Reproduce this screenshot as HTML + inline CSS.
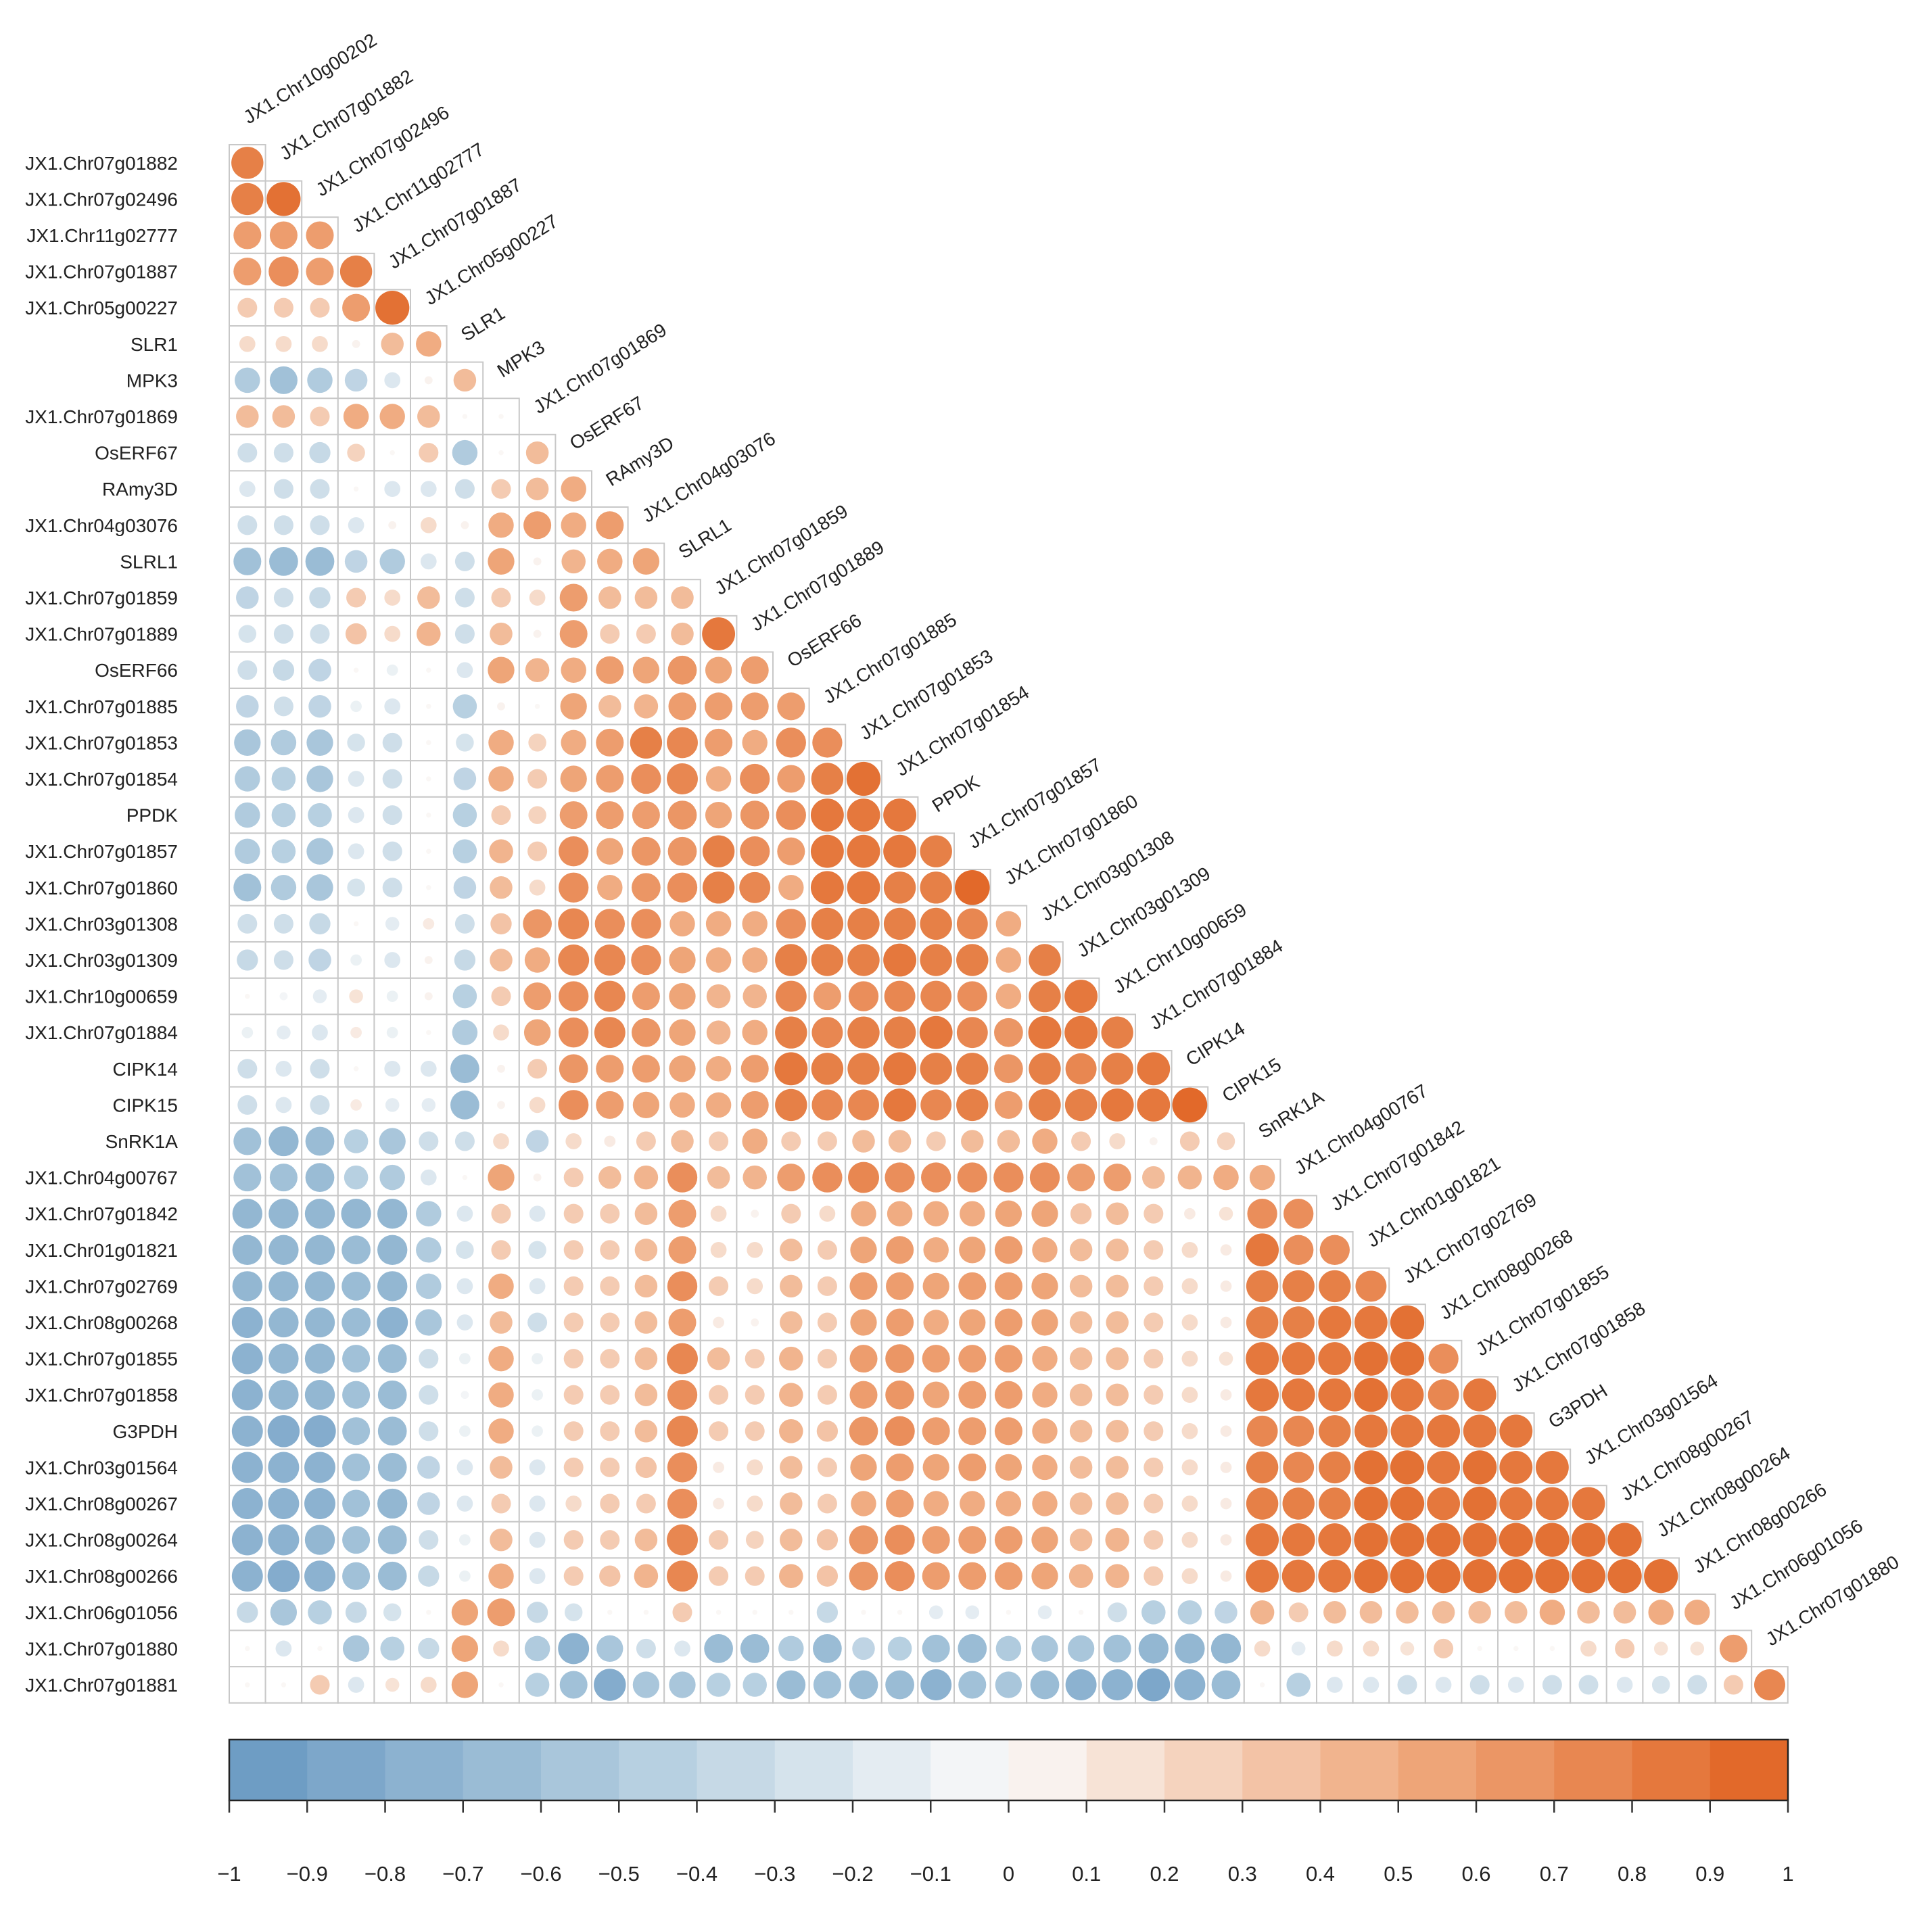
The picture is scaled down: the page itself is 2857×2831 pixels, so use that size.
<!DOCTYPE html>
<html><head><meta charset="utf-8">
<style>
html,body{margin:0;padding:0;background:#fff;}
svg{display:block;font-family:"Liberation Sans",Arial,sans-serif;}
</style></head>
<body>
<svg id="chart" width="2857" height="2831" viewBox="0 0 2857 2831" xmlns="http://www.w3.org/2000/svg">
<g id="grid"></g>
<g id="rowlabels"></g>
<g id="collabels"></g>
<g id="legend"></g>
</svg>
<script>
const variables = ["JX1.Chr10g00202","JX1.Chr07g01882","JX1.Chr07g02496","JX1.Chr11g02777","JX1.Chr07g01887","JX1.Chr05g00227","SLR1","MPK3","JX1.Chr07g01869","OsERF67","RAmy3D","JX1.Chr04g03076","SLRL1","JX1.Chr07g01859","JX1.Chr07g01889","OsERF66","JX1.Chr07g01885","JX1.Chr07g01853","JX1.Chr07g01854","PPDK","JX1.Chr07g01857","JX1.Chr07g01860","JX1.Chr03g01308","JX1.Chr03g01309","JX1.Chr10g00659","JX1.Chr07g01884","CIPK14","CIPK15","SnRK1A","JX1.Chr04g00767","JX1.Chr07g01842","JX1.Chr01g01821","JX1.Chr07g02769","JX1.Chr08g00268","JX1.Chr07g01855","JX1.Chr07g01858","G3PDH","JX1.Chr03g01564","JX1.Chr08g00267","JX1.Chr08g00264","JX1.Chr08g00266","JX1.Chr06g01056","JX1.Chr07g01880","JX1.Chr07g01881"];
const legendTicks = ["-1","-0.9","-0.8","-0.7","-0.6","-0.5","-0.4","-0.3","-0.2","-0.1","0","0.1","0.2","0.3","0.4","0.5","0.6","0.7","0.8","0.9","1"];
const corrRows = [
[0.8],
[0.8,0.9],
[0.6,0.6,0.6],
[0.6,0.7,0.6,0.8],
[0.3,0.3,0.3,0.6,0.9],
[0.2,0.2,0.2,0.05,0.4,0.5],
[-0.5,-0.6,-0.5,-0.4,-0.2,0.05,0.4],
[0.4,0.4,0.3,0.5,0.5,0.4,0.02,0.02],
[-0.3,-0.3,-0.35,0.25,0.02,0.3,-0.5,0.02,0.4],
[-0.2,-0.3,-0.3,0.02,-0.2,-0.2,-0.3,0.3,0.4,0.5],
[-0.3,-0.3,-0.3,-0.2,0.05,0.2,0.05,0.5,0.6,0.5,0.6],
[-0.6,-0.65,-0.65,-0.4,-0.5,-0.2,-0.3,0.55,0.05,0.45,0.5,0.55],
[-0.4,-0.3,-0.35,0.3,0.2,0.4,-0.3,0.3,0.2,0.6,0.4,0.4,0.4],
[-0.25,-0.3,-0.3,0.35,0.2,0.45,-0.3,0.4,0.05,0.6,0.3,0.3,0.4,0.85],
[-0.3,-0.35,-0.4,0.02,-0.1,0.02,-0.2,0.55,0.45,0.5,0.6,0.55,0.65,0.55,0.6],
[-0.4,-0.3,-0.4,-0.1,-0.2,0.02,-0.45,0.05,0.02,0.55,0.4,0.45,0.6,0.6,0.6,0.6],
[-0.55,-0.5,-0.55,-0.25,-0.3,0.02,-0.25,0.5,0.25,0.5,0.6,0.8,0.75,0.6,0.5,0.7,0.7],
[-0.5,-0.45,-0.55,-0.2,-0.3,0.02,-0.4,0.5,0.3,0.55,0.6,0.7,0.75,0.5,0.7,0.6,0.8,0.9],
[-0.5,-0.45,-0.45,-0.2,-0.3,0.02,-0.45,0.3,0.25,0.6,0.6,0.6,0.65,0.55,0.65,0.7,0.85,0.85,0.85],
[-0.5,-0.45,-0.55,-0.2,-0.3,0.02,-0.45,0.45,0.3,0.7,0.55,0.65,0.65,0.8,0.7,0.6,0.85,0.85,0.85,0.8],
[-0.6,-0.5,-0.55,-0.25,-0.3,0.02,-0.4,0.4,0.2,0.7,0.5,0.65,0.7,0.8,0.75,0.5,0.85,0.85,0.8,0.8,0.95],
[-0.3,-0.3,-0.35,0.02,-0.15,0.1,-0.3,0.35,0.65,0.75,0.7,0.7,0.5,0.5,0.5,0.7,0.8,0.8,0.8,0.8,0.75,0.5],
[-0.35,-0.3,-0.4,-0.1,-0.2,0.05,-0.35,0.4,0.5,0.75,0.75,0.7,0.55,0.5,0.5,0.8,0.8,0.8,0.85,0.8,0.8,0.5,0.8],
[0.02,-0.05,-0.15,0.15,-0.1,0.05,-0.45,0.3,0.6,0.7,0.75,0.6,0.55,0.45,0.45,0.75,0.6,0.7,0.75,0.75,0.7,0.5,0.8,0.85],
[-0.1,-0.15,-0.2,0.1,-0.1,0.02,-0.5,0.2,0.55,0.7,0.75,0.65,0.55,0.45,0.5,0.8,0.75,0.8,0.8,0.85,0.75,0.65,0.85,0.85,0.8],
[-0.3,-0.2,-0.3,0.02,-0.2,-0.2,-0.65,0.05,0.3,0.65,0.6,0.6,0.55,0.5,0.6,0.85,0.8,0.8,0.85,0.8,0.8,0.65,0.8,0.75,0.8,0.85],
[-0.3,-0.2,-0.3,0.1,-0.15,-0.15,-0.65,0.05,0.2,0.7,0.6,0.55,0.5,0.5,0.6,0.8,0.75,0.75,0.85,0.75,0.8,0.6,0.8,0.8,0.85,0.85,0.95],
[-0.6,-0.7,-0.65,-0.45,-0.55,-0.3,-0.3,0.2,-0.4,0.2,0.1,0.3,0.4,0.3,0.5,0.3,0.3,0.4,0.4,0.3,0.4,0.4,0.5,0.3,0.2,0.05,0.3,0.25],
[-0.6,-0.6,-0.65,-0.45,-0.5,-0.2,0.02,0.55,0.05,0.3,0.4,0.45,0.7,0.4,0.45,0.6,0.7,0.75,0.7,0.7,0.7,0.7,0.7,0.6,0.6,0.4,0.45,0.5,0.5],
[-0.7,-0.7,-0.7,-0.7,-0.7,-0.5,-0.2,0.3,-0.2,0.3,0.3,0.4,0.6,0.2,0.05,0.3,0.2,0.5,0.5,0.5,0.5,0.55,0.55,0.35,0.4,0.3,0.1,0.15,0.7,0.7],
[-0.7,-0.7,-0.7,-0.65,-0.7,-0.5,-0.25,0.3,-0.25,0.3,0.3,0.4,0.6,0.2,0.2,0.4,0.3,0.55,0.6,0.5,0.55,0.6,0.5,0.4,0.4,0.3,0.2,0.1,0.85,0.7,0.7],
[-0.7,-0.7,-0.7,-0.65,-0.7,-0.5,-0.2,0.5,-0.2,0.3,0.3,0.4,0.7,0.3,0.2,0.4,0.3,0.6,0.6,0.55,0.6,0.6,0.55,0.4,0.4,0.3,0.2,0.1,0.8,0.8,0.8,0.75],
[-0.75,-0.7,-0.7,-0.65,-0.75,-0.55,-0.2,0.4,-0.3,0.3,0.3,0.4,0.6,0.1,0.05,0.4,0.3,0.55,0.6,0.5,0.55,0.6,0.55,0.4,0.4,0.3,0.2,0.1,0.8,0.8,0.85,0.85,0.9],
[-0.75,-0.7,-0.7,-0.6,-0.65,-0.3,-0.1,0.5,-0.1,0.3,0.3,0.4,0.75,0.4,0.3,0.45,0.3,0.6,0.65,0.6,0.6,0.6,0.5,0.4,0.4,0.3,0.2,0.15,0.85,0.85,0.85,0.9,0.9,0.7],
[-0.75,-0.7,-0.7,-0.6,-0.65,-0.3,-0.05,0.5,-0.1,0.3,0.3,0.4,0.7,0.3,0.3,0.45,0.3,0.6,0.65,0.55,0.6,0.6,0.5,0.4,0.4,0.3,0.2,0.1,0.85,0.85,0.85,0.9,0.85,0.75,0.85],
[-0.75,-0.8,-0.8,-0.6,-0.65,-0.3,-0.1,0.5,-0.1,0.3,0.3,0.4,0.75,0.3,0.3,0.45,0.35,0.65,0.7,0.6,0.6,0.6,0.5,0.4,0.4,0.3,0.2,0.1,0.75,0.75,0.8,0.85,0.85,0.85,0.85,0.85],
[-0.75,-0.75,-0.75,-0.6,-0.65,-0.4,-0.2,0.4,-0.2,0.3,0.3,0.35,0.7,0.1,0.2,0.4,0.3,0.55,0.6,0.55,0.6,0.55,0.5,0.4,0.4,0.3,0.2,0.1,0.8,0.75,0.8,0.9,0.9,0.85,0.9,0.85,0.85],
[-0.75,-0.75,-0.75,-0.6,-0.7,-0.4,-0.2,0.3,-0.2,0.2,0.3,0.3,0.7,0.1,0.2,0.4,0.3,0.5,0.6,0.5,0.5,0.5,0.5,0.4,0.4,0.3,0.2,0.1,0.8,0.8,0.8,0.9,0.9,0.85,0.9,0.85,0.85,0.85],
[-0.75,-0.75,-0.7,-0.6,-0.65,-0.3,-0.1,0.4,-0.2,0.3,0.3,0.4,0.75,0.3,0.25,0.4,0.35,0.65,0.7,0.6,0.6,0.6,0.55,0.4,0.45,0.3,0.2,0.1,0.85,0.85,0.85,0.9,0.9,0.9,0.9,0.9,0.9,0.9,0.9],
[-0.75,-0.8,-0.75,-0.6,-0.65,-0.35,-0.1,0.5,-0.2,0.3,0.35,0.45,0.75,0.3,0.3,0.45,0.35,0.65,0.7,0.6,0.6,0.6,0.55,0.45,0.45,0.3,0.2,0.1,0.85,0.85,0.85,0.9,0.9,0.9,0.9,0.9,0.9,0.9,0.9,0.9],
[-0.35,-0.55,-0.45,-0.35,-0.25,0.02,0.55,0.6,-0.35,-0.25,0.02,0.02,0.3,0.02,0.02,0.02,-0.35,0.02,0.02,-0.15,-0.15,0.02,-0.15,0.02,-0.3,-0.45,-0.45,-0.4,0.45,0.3,0.4,0.4,0.4,0.4,0.4,0.4,0.5,0.4,0.4,0.5,0.5],
[0.02,-0.2,0.02,-0.55,-0.45,-0.35,0.55,0.2,-0.5,-0.75,-0.55,-0.3,-0.2,-0.65,-0.65,-0.5,-0.65,-0.4,-0.45,-0.6,-0.65,-0.5,-0.55,-0.55,-0.6,-0.7,-0.7,-0.7,0.2,-0.15,0.2,0.2,0.15,0.3,0.02,0.02,0.02,0.2,0.3,0.15,0.15,0.6],
[0.02,0.02,0.3,-0.2,0.15,0.2,0.55,0.02,-0.45,-0.6,-0.8,-0.55,-0.55,-0.45,-0.45,-0.65,-0.6,-0.65,-0.65,-0.75,-0.6,-0.55,-0.65,-0.75,-0.75,-0.85,-0.75,-0.65,0.02,-0.45,-0.2,-0.2,-0.3,-0.2,-0.3,-0.2,-0.3,-0.3,-0.2,-0.25,-0.3,0.3,0.75]
];

const NS = "http://www.w3.org/2000/svg";
const X0 = 339, Y0 = 214, CELL = 53.6, RMAX = 26.5;
const xCol = j => X0 + j*CELL;
const yRow = i => Y0 + i*CELL;
const stops = [[-1,[103,152,193]],[-0.5,[176,203,222]],[0,[250,250,250]],[0.5,[240,172,130]],[1,[224,98,32]]];
function color(v){
  for(let k=0;k<stops.length-1;k++){
    const a=stops[k], b=stops[k+1];
    if(v<=b[0]){
      const t=(v-a[0])/(b[0]-a[0]);
      const c=a[1].map((x,m)=>Math.round(x+(b[1][m]-x)*t));
      return `rgb(${c[0]},${c[1]},${c[2]})`;
    }
  }
  return "rgb(224,98,32)";
}
function mk(tag, attrs, parent){
  const e=document.createElementNS(NS,tag);
  for(const k in attrs) e.setAttribute(k,attrs[k]);
  parent.appendChild(e); return e;
}
const grid=document.getElementById('grid');
const rowG=document.getElementById('rowlabels');
const colG=document.getElementById('collabels');
const leg=document.getElementById('legend');

corrRows.forEach((row,i)=>{
  row.forEach((v,j)=>{
    const r=mk('rect',{x:xCol(j),y:yRow(i),width:CELL,height:CELL,fill:'#fff',stroke:'#c8c8c8','stroke-width':2},grid);
    
    
  });
});
corrRows.forEach((row,i)=>{
  row.forEach((v,j)=>{
    const c=mk('circle',{cx:xCol(j)+CELL/2,cy:yRow(i)+CELL/2,r:RMAX*Math.sqrt(Math.abs(v)),fill:color(v)},grid);
    
    
  });
  const t=mk('text',{x:263,y:yRow(i)+CELL/2+10,'text-anchor':'end','font-size':28,fill:'#222'},rowG);
  t.textContent=variables[i+1];
  
  
});
for(let j=0;j<corrRows.length;j++){
  const cx=xCol(j)+CELL/2+2, cy=yRow(j)-30;
  const t=mk('text',{x:cx,y:cy,'font-size':28,fill:'#222',transform:`rotate(-32 ${cx} ${cy})`},colG);
  t.textContent=variables[j];
  
  
}
const LX0=339, LX1=2644, LY0=2573, LY1=2663;
const lx = v => LX0 + (v+1)/2*(LX1-LX0);
for(let k=0;k<20;k++){
  const a=-1+k*0.1, b=a+0.1;
  const r=mk('rect',{x:lx(a),y:LY0,width:lx(b)-lx(a)+0.5,height:LY1-LY0,fill:color((a+b)/2)},leg);
  
  
}
const border=mk('rect',{x:LX0,y:LY0,width:LX1-LX0,height:LY1-LY0,fill:'none',stroke:'#222','stroke-width':2.5},leg);


legendTicks.forEach(s=>{
  const v=parseFloat(s);
  const l=mk('line',{x1:lx(v),x2:lx(v),y1:LY1,y2:LY1+18,stroke:'#333','stroke-width':2.5},leg);
  
  
  const t=mk('text',{x:lx(v),y:2782,'text-anchor':'middle','font-size':31,fill:'#222'},leg);
  t.textContent=s.replace('-','\u2212');
  
  
});
</script>
</body></html>
